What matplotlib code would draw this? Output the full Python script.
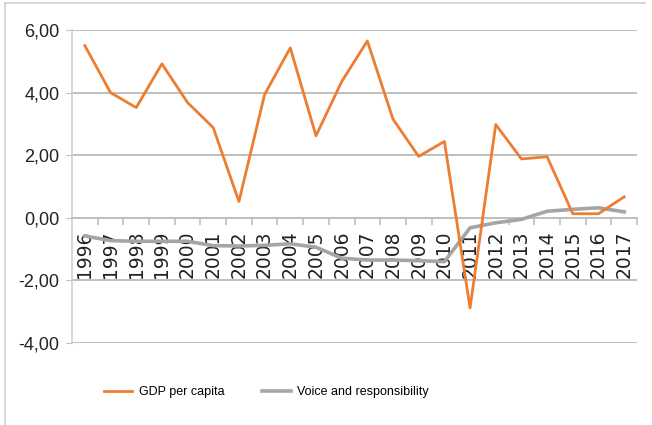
import numpy as np
import matplotlib.pyplot as plt
from matplotlib.lines import Line2D
from matplotlib.ticker import FixedLocator, FuncFormatter

years = [str(y) for y in range(1996, 2018)]
gdp_per_capita = [5.50, 4.00, 3.52, 4.92, 3.68, 2.88, 0.52, 3.94, 5.43, 2.62, 4.35,
                  5.65, 3.15, 1.96, 2.44, -2.88, 2.98, 1.88, 1.95, 0.13, 0.13, 0.67]
voice = [-0.58, -0.73, -0.75, -0.75, -0.75, -0.89, -0.90, -0.88, -0.83, -0.94, -1.29,
         -1.35, -1.35, -1.37, -1.40, -0.32, -0.16, -0.05, 0.21, 0.27, 0.32, 0.19]
y_ticks = [-4, -2, 0, 2, 4, 6]

orange = '#ed7d31'
grey = '#a5a5a5'
grid_col = '#bfbfbf'

fig = plt.figure(figsize=(6.52, 4.25), dpi=100)
ax = fig.add_axes([72 / 652, 1 - 343 / 425, 565 / 652, 313 / 425])

x = np.arange(len(years))
ax.plot(x, voice, color=grey, lw=2.6, label='Voice and responsibility', zorder=3)
ax.plot(x, gdp_per_capita, color=orange, lw=2.0, label='GDP per capita', zorder=4)

ax.set_xlim(-0.5, len(years) - 0.5)
ax.set_ylim(-4, 6)
ax.set_yticks(y_ticks)
ax.yaxis.set_major_formatter(FuncFormatter(lambda v, p: f'{v:.2f}'.replace('.', ',')))
ax.tick_params(axis='y', length=4, color=grid_col, labelsize=13, labelcolor='#222222',
               pad=5)
for lab in ax.get_yticklabels():
    lab.set_family(['Liberation Sans', 'DejaVu Sans'])
ax.yaxis.grid(True, color=grid_col, lw=1.4)
ax.set_axisbelow(True)

# x axis sits on zero, labels centred on categories, ticks on boundaries
ax.spines['bottom'].set_position(('data', 0))
ax.spines['bottom'].set_color(grid_col)
ax.spines['bottom'].set_linewidth(1.4)
ax.spines['left'].set_color('#d0d0d0')
ax.spines['left'].set_linewidth(1.2)
ax.spines['top'].set_visible(False)
ax.spines['right'].set_visible(False)
ax.set_xticks(x)
ax.set_xticklabels(years, rotation=90, fontsize=13.5, color='#222222',
                   family='DejaVu Sans')
ax.xaxis.set_minor_locator(FixedLocator(np.arange(0.5, len(years), 1.0)))
ax.tick_params(axis='x', which='major', length=0, pad=9)
ax.tick_params(axis='x', which='minor', length=5, color=grid_col, width=1.2)
for lab in ax.get_xticklabels():
    lab.set_verticalalignment('top')

handles, labels = ax.get_legend_handles_labels()
fig.legend(handles[::-1], labels[::-1], loc='center', bbox_to_anchor=(266 / 652, 1 - 392 / 425),
           ncol=2, frameon=False, handlelength=2.3, handletextpad=0.5, columnspacing=3.0,
           prop={'family': ['Liberation Sans', 'DejaVu Sans'], 'size': 9})

# light frame around the chart area
fig.add_artist(Line2D([5 / 652, 5 / 652], [0, 1 - 3 / 425], transform=fig.transFigure,
                      color='#d0d0d0', lw=1.2))
fig.add_artist(Line2D([5 / 652, 645 / 652], [1 - 3 / 425, 1 - 3 / 425],
                      transform=fig.transFigure, color='#d0d0d0', lw=1.2))

fig.savefig('out.png', dpi=100)
